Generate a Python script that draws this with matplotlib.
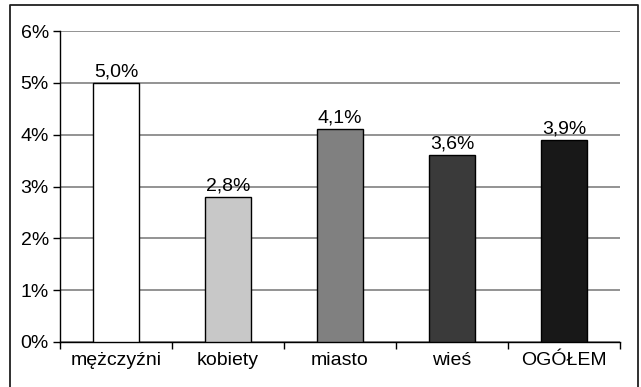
import matplotlib.pyplot as plt
from matplotlib.lines import Line2D
from matplotlib.ticker import FuncFormatter

# Udział procentowy w grupach
kategorie = ['mężczyźni', 'kobiety', 'miasto', 'wieś', 'OGÓŁEM']
wartosci = [5.0, 2.8, 4.1, 3.6, 3.9]
kolory = ['#ffffff', '#c8c8c8', '#808080', '#3a3a3a', '#181818']

plt.rcParams['font.family'] = ['Liberation Sans', 'DejaVu Sans']

fig = plt.figure(figsize=(6.41, 3.87), dpi=100)
ax = fig.add_axes([60 / 641, 45 / 387, 560 / 641, 311 / 387])

# ramka wokół wykresu (bez dolnej krawędzi)
W, H = 641, 387
fig.lines.append(Line2D([10 / W, 10 / W, 638 / W, 638 / W],
                        [0, (H - 5) / H, (H - 5) / H, 0],
                        transform=fig.transFigure, color='#202020', linewidth=1.3))

x = range(len(kategorie))
ax.bar(x, wartosci, width=0.41, color=kolory, edgecolor='black', linewidth=1, zorder=3)

for i, v in zip(x, wartosci):
    ax.text(i, v + 0.13, f'{v:.1f}%'.replace('.', ','), ha='center', va='baseline', fontsize=14)

ax.set_xlim(-0.5, len(kategorie) - 0.5)
ax.set_ylim(0, 6)
ax.set_yticks(range(0, 7))
ax.yaxis.set_major_formatter(FuncFormatter(lambda v, p: f'{int(v)}%'))
ax.grid(axis='y', color='#808080', linewidth=1.2, zorder=0)

# podpisy kategorii pod środkami słupków, kreski na granicach
ax.set_xticks([i - 0.5 for i in range(len(kategorie) + 1)])
ax.set_xticklabels([])
ax.set_xticks(list(x), minor=True)
ax.set_xticklabels(kategorie, minor=True)
ax.tick_params(axis='x', which='minor', length=0, pad=7, labelsize=14)
ax.tick_params(axis='x', which='major', length=5, width=1, direction='out')
ax.tick_params(axis='y', length=5, width=1, labelsize=14, pad=3)

ax.spines['top'].set_visible(False)
ax.spines['right'].set_visible(False)
ax.spines['left'].set_linewidth(1)
ax.spines['bottom'].set_linewidth(1)

fig.savefig('out.png', dpi=100)
